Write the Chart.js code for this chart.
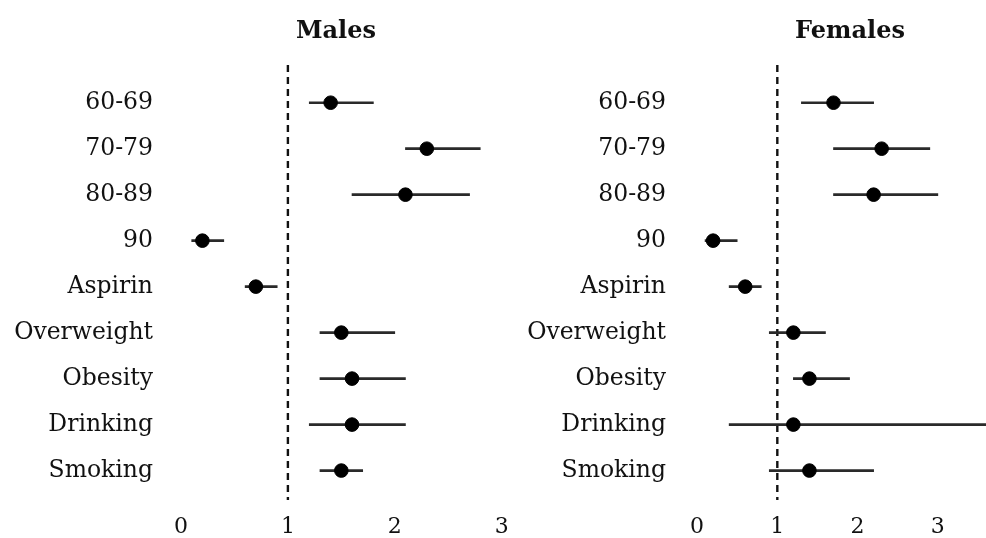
<!DOCTYPE html>
<html>
<head>
<meta charset="utf-8">
<script src="https://cdn.jsdelivr.net/npm/chart.js@4"></script>
<style>
  html, body { margin: 0; padding: 0; background: #fff; }
  #wrap { position: relative; width: 986px; height: 538px; overflow: hidden; }
  #males { position: absolute; left: 0; top: 0; }
  #females { position: absolute; left: 520px; top: 0; }
</style>
</head>
<body>
<div id="wrap">
  <canvas id="males" width="523" height="538"></canvas>
  <canvas id="females" width="466" height="538"></canvas>
</div>
<script>
// rows, top to bottom
const categories = ["60-69", "70-79", "80-89", "90", "Aspirin", "Overweight", "Obesity", "Drinking", "Smoking"];

// Males: estimate and interval
const malesEst  = [1.4, 2.3, 2.1, 0.2, 0.7, 1.5, 1.6, 1.6, 1.5];
const malesLow  = [1.2, 2.1, 1.6, 0.1, 0.6, 1.3, 1.3, 1.2, 1.3];
const malesHigh = [1.8, 2.8, 2.7, 0.4, 0.9, 2.0, 2.1, 2.1, 1.7];

// Females: estimate and interval
const femalesEst  = [1.7, 2.3, 2.2, 0.2, 0.6, 1.2, 1.4, 1.2, 1.4];
const femalesLow  = [1.3, 1.7, 1.7, 0.1, 0.4, 0.9, 1.2, 0.4, 0.9];
const femalesHigh = [2.2, 2.9, 3.0, 0.5, 0.8, 1.6, 1.9, 4.5, 2.2];

const xTicks = [0, 1, 2, 3];
const refValue = 1;

Chart.defaults.font.family = "'DejaVu Serif', serif";
Chart.defaults.color = "#111";

const panelTitle = {
  id: "panelTitle",
  afterDraw(chart, args, opts) {
    const ctx = chart.ctx;
    ctx.save();
    ctx.font = "bold 24px 'DejaVu Serif', serif";
    ctx.fillStyle = "#111";
    ctx.textAlign = "center";
    ctx.textBaseline = "alphabetic";
    ctx.fillText(opts.text, opts.x, opts.y);
    ctx.restore();
  }
};

const yMin = -0.82, yMax = 8.64;

function makePanel(id, title, est, low, high, cfg) {
  const ctx = document.getElementById(id).getContext("2d");
  new Chart(ctx, {
    type: "bar",
    data: {
      datasets: [
        {
          type: "line",
          data: [{ x: refValue, y: yMin }, { x: refValue, y: yMax }],
          borderColor: "#111",
          borderWidth: 2.4,
          borderDash: [7, 5],
          pointRadius: 0,
          order: 3,
        },
        {
          type: "bar",
          indexAxis: "y",
          data: categories.map((c, i) => ({ x: [low[i], high[i]], y: i })),
          backgroundColor: "#2a2a2a",
          borderWidth: 0,
          barThickness: 2,
          order: 2,
        },
        {
          type: "scatter",
          data: categories.map((c, i) => ({ x: est[i], y: i })),
          backgroundColor: "#000",
          borderColor: "#000",
          pointRadius: 6.8,
          order: 1,
        },
      ],
    },
    options: {
      responsive: false,
      animation: false,
      events: [],
      layout: { autoPadding: false, padding: { top: 65, left: 0, right: 0, bottom: 0 } },
      plugins: {
        legend: { display: false },
        tooltip: { enabled: false },
        panelTitle: { text: title, x: cfg.titleX, y: 38 },
      },
      scales: {
        x: {
          type: "linear",
          offset: false,
          min: cfg.xMin,
          max: cfg.xMax,
          grid: { display: false, drawTicks: false },
          border: { display: false },
          ticks: { font: { size: 22 }, padding: 14, color: "#111" },
          afterBuildTicks: (s) => { s.ticks = xTicks.map((v) => ({ value: v })); },
          afterFit: (s) => { s.height = 38; },
        },
        y: {
          type: "linear",
          offset: false,
          reverse: true,
          min: yMin,
          max: yMax,
          grid: { display: false, drawTicks: false },
          border: { display: false },
          ticks: {
            font: { size: 23.5 },
            padding: cfg.labelPad,
            color: "#111",
            callback: (v) => categories[v],
          },
          afterBuildTicks: (s) => { s.ticks = categories.map((c, i) => ({ value: i })); },
          afterFit: (s) => { s.width = cfg.axisWidth; },
        },
      },
    },
    plugins: [panelTitle],
  });
}

makePanel("males", "Males", malesEst, malesLow, malesHigh,
  { xMin: -0.15, xMax: 3.2, axisWidth: 165, labelPad: 12, titleX: 336 });
makePanel("females", "Females", femalesEst, femalesLow, femalesHigh,
  { xMin: -0.2, xMax: 3.6, axisWidth: 161, labelPad: 15, titleX: 330 });
</script>
</body>
</html>
